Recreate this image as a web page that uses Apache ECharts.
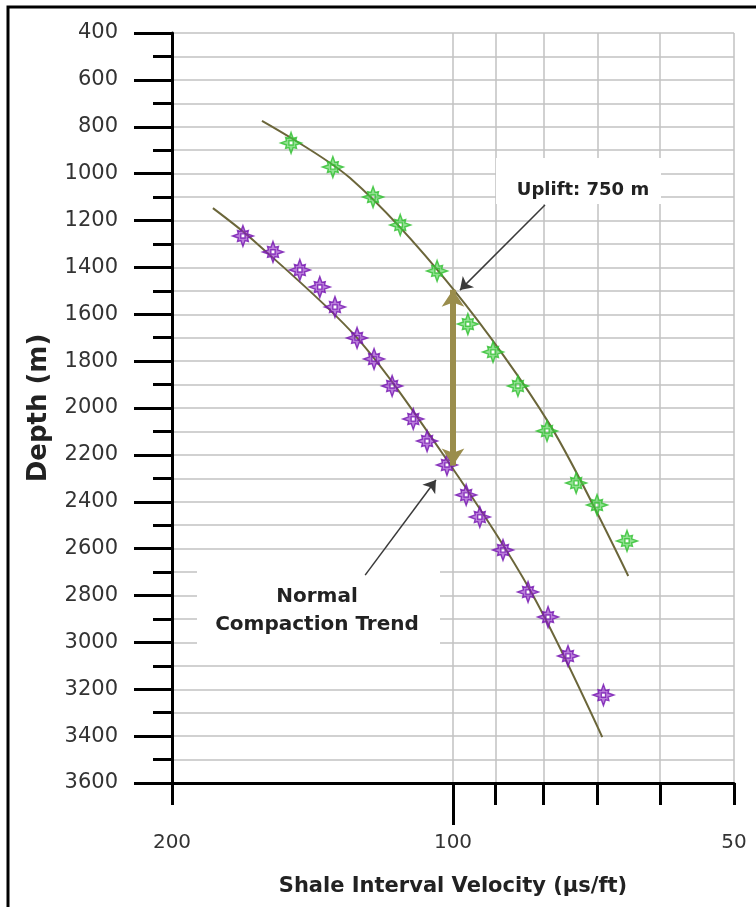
<!DOCTYPE html>
<html><head><meta charset="utf-8">
<script src="https://cdn.jsdelivr.net/npm/echarts@6/dist/echarts.min.js"></script>
<style>html,body{margin:0;padding:0;background:#fff}#c{width:756px;height:907px}</style>
</head><body><div id="c"></div>
<script>
// ---- data (velocity in µs/ft, depth in m) ----
const upliftedVel   = [149.1,134.5,121.8,113.9,104.0,96.4,90.6,85.2,79.3,73.8,70.1,65.1];
const upliftedDepth = [869,972,1100,1219,1415,1642,1761,1906,2098,2320,2414,2567];
const normalVel   = [167.9,155.9,145.9,138.9,133.8,126.7,121.5,116.2,110.3,106.6,101.5,96.8,93.6,88.4,83.1,79.1,75.3,69.0];
const normalDepth = [1266,1334,1411,1484,1569,1701,1791,1906,2047,2141,2243,2371,2465,2606,2785,2892,3058,3225];
const upliftedTrendVel   = [160.2,128.9,100.0,78.7,64.9];
const upliftedTrendDepth = [775,1019,1492,2073,2717];
const normalTrendVel   = [180.8,163.8,126.7,101.5,82.7,69.2];
const normalTrendDepth = [1147,1283,1701,2222,2777,3404];
const velMinorTicks = [200,90,80,70,60,50];
const velMajorTicks = [100];
const velLabels = [200,100,50];
const depthMin = 400, depthMax = 3600, depthStep = 200;
const upliftVel = 100, upliftTop = 1495, upliftBottom = 2245;
const upliftPointer = [[79.7,1134],[98.3,1497]];
const normalPointer = [[124.2,2713],[104.3,2307]];
const upliftText = 'Uplift: 750 m';
const normalText = ['Normal','Compaction Trend'];
const xTitle = 'Shale Interval Velocity (\u00b5s/ft)';
const yTitle = 'Depth (m)';

const zip = (a,b) => a.map((v,i)=>[v,b[i]]);
const FONT = 'DejaVu Sans';
const GRID_LINE = {color:'#c2c2c2', width:1.5};
const star = 'path://M50,0 L60,28 L76,24 L72,40 L100,50 L72,60 L76,76 L60,72 L50,100 L40,72 L24,76 L28,60 L0,50 L28,40 L24,24 L40,28 Z M40,40 L40,60 L60,60 L60,40 Z';

const chart = echarts.init(document.getElementById('c'), null, {renderer:'canvas'});
const option = {
  animation:false,
  backgroundColor:'#fff',
  grid:{left:172,right:22,top:33,bottom:124,containLabel:false},
  xAxis:[
    {type:'log',logBase:10,min:50,max:200,inverse:true,position:'bottom',
     axisLine:{show:true,lineStyle:{color:'#000',width:3}},
     axisTick:{show:true,customValues:velMinorTicks,length:22,lineStyle:{color:'#000',width:3}},
     axisLabel:{show:false},
     splitLine:{show:true,lineStyle:GRID_LINE}},
    {type:'log',logBase:10,min:50,max:200,inverse:true,position:'bottom',
     axisLine:{show:false},
     axisTick:{show:true,customValues:velMajorTicks,length:42,lineStyle:{color:'#000',width:3}},
     axisLabel:{show:true,customValues:velLabels,margin:50,fontSize:20,color:'#333',fontFamily:FONT,formatter:v=>String(v)},
     splitLine:{show:true,lineStyle:GRID_LINE},
     name:xTitle,nameLocation:'middle',nameGap:93,
     nameTextStyle:{fontSize:21,fontWeight:'bold',color:'#222',fontFamily:FONT}}
  ],
  yAxis:{type:'value',inverse:true,min:depthMin,max:depthMax,interval:depthStep,
     axisLine:{show:true,lineStyle:{color:'#000',width:3}},
     axisTick:{show:true,length:38,lineStyle:{color:'#000',width:3}},
     minorTick:{show:true,splitNumber:2,length:19,lineStyle:{color:'#000',width:3}},
     axisLabel:{margin:54,fontSize:21,color:'#333',fontFamily:FONT,formatter:v=>String(v)},
     splitLine:{show:true,lineStyle:GRID_LINE},
     minorSplitLine:{show:true,lineStyle:GRID_LINE},
     name:yTitle,nameLocation:'middle',nameGap:120,
     nameTextStyle:{fontSize:26,fontWeight:'bold',color:'#222',fontFamily:FONT}},
  series:[
    {type:'line',name:'uplifted trend',data:zip(upliftedTrendVel,upliftedTrendDepth),smooth:0.3,
     showSymbol:false,lineStyle:{color:'#6b663a',width:2},z:2,silent:true,
     markLine:{silent:true,animation:false,label:{show:false},
       data:[
         [{coord:[upliftVel,upliftTop],symbol:'arrow',symbolSize:17,lineStyle:{color:'#9a8d4c',width:6,type:'solid'}},
          {coord:[upliftVel,upliftBottom],symbol:'arrow',symbolSize:17}],
         [{coord:upliftPointer[0],symbol:'none',lineStyle:{color:'#3a3a3a',width:1.5,type:'solid'}},
          {coord:upliftPointer[1],symbol:'arrow',symbolSize:12}]
       ]}},
    {type:'line',name:'normal trend',data:zip(normalTrendVel,normalTrendDepth),smooth:0.3,
     showSymbol:false,lineStyle:{color:'#6b663a',width:2},z:2,silent:true,
     markLine:{silent:true,animation:false,label:{show:false},
       data:[
         [{coord:normalPointer[0],symbol:'none',lineStyle:{color:'#3a3a3a',width:1.5,type:'solid'}},
          {coord:normalPointer[1],symbol:'arrow',symbolSize:12}]
       ]}},
    {type:'scatter',name:'uplifted',data:zip(upliftedVel,upliftedDepth),symbol:star,symbolSize:21,
     itemStyle:{color:'rgba(70,205,70,0.75)',borderColor:'#2fbf2f',borderWidth:1.4},z:3},
    {type:'scatter',name:'normal',data:zip(normalVel,normalDepth),symbol:star,symbolSize:21,
     itemStyle:{color:'rgba(140,40,195,0.75)',borderColor:'#7414b0',borderWidth:1.4},z:3}
  ],
  graphic:{elements:[
    {type:'rect',z:1,shape:{x:8,y:7,width:780,height:940},style:{fill:'none',stroke:'#000',lineWidth:3}},
    {type:'rect',z:1,shape:{x:496,y:158,width:165,height:46},style:{fill:'#fff'}},
    {type:'text',z:1,x:583,y:190,style:{text:upliftText,fill:'#222',font:'bold 18px "DejaVu Sans"',textAlign:'center',textVerticalAlign:'middle'}},
    {type:'rect',z:1,shape:{x:197,y:562,width:243,height:88},style:{fill:'#fff'}},
    {type:'text',z:1,x:317,y:597,style:{text:normalText[0],fill:'#222',font:'bold 20px "DejaVu Sans"',textAlign:'center',textVerticalAlign:'middle'}},
    {type:'text',z:1,x:317,y:625,style:{text:normalText[1],fill:'#222',font:'bold 20px "DejaVu Sans"',textAlign:'center',textVerticalAlign:'middle'}}
  ]}
};
chart.setOption(option);
</script></body></html>
